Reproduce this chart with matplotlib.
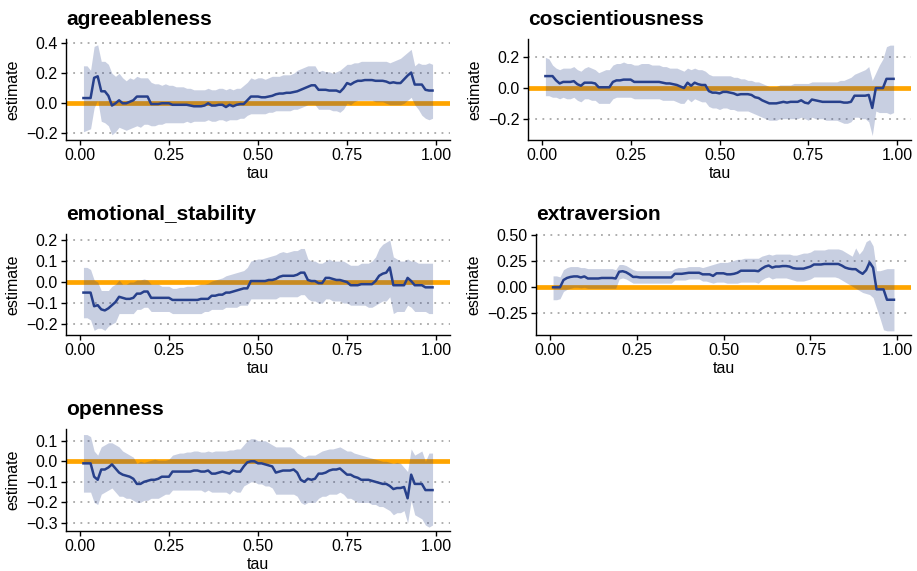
import numpy as np
import matplotlib
matplotlib.use("Agg")
import matplotlib.pyplot as plt
from matplotlib.ticker import FuncFormatter

plt.rcParams['font.family'] = ['Liberation Sans', 'DejaVu Sans']

# quantiles
tau = np.round(np.arange(1, 100) / 100, 2)

agree_est = [
    .035, .035, .035, .17, .18, .08, .08, .05, -.015, 0.0,
    .02, 0.0, 0.0, .01, .02, .045, .045, .045, .045, -.005,
    -.005, -.005, 0, 0, 0, -.01, -.01, -.01, -.01, -.01,
    -.015, -.02, -.02, -.02, -.015, 0, -.015, -.015, -.01, -.01,
    -.025, -.01, -.02, -.01, -.005, -.005, .02, .045, .045, .045,
    .04, .04, .045, .05, .06, .065, .065, .07, .07, .075,
    .08, .09, .10, .11, .12, .12, .09, .09, .09, .085,
    .085, .085, .075, .10, .135, .125, .14, .15, .15, .155,
    .155, .155, .15, .15, .15, .145, .135, .14, .135, .135,
    .16, .185, .205, .125, .125, .125, .09, .085, .085]
agree_hi = [
    .25, .25, .22, .38, .39, .28, .28, .26, .20, .18,
    .20, .17, .15, .17, .16, .18, .17, .17, .17, .14,
    .13, .13, .12, .13, .12, .12, .11, .11, .11, .10,
    .10, .09, .09, .09, .09, .10, .09, .09, .10, .10,
    .09, .10, .09, .10, .10, .12, .14, .17, .16, .17,
    .17, .16, .17, .18, .18, .18, .19, .19, .19, .20,
    .22, .23, .24, .25, .25, .25, .21, .22, .21, .21,
    .20, .21, .22, .24, .26, .26, .27, .27, .28, .28,
    .28, .28, .28, .28, .28, .28, .27, .28, .29, .30,
    .32, .34, .36, .25, .27, .26, .26, .27, .26]
agree_lo = [
    -.19, -.18, -.17, -.03, .02, -.12, -.13, -.15, -.21, -.19,
    -.16, -.17, -.18, -.17, -.16, -.15, -.16, -.14, -.14, -.15,
    -.15, -.14, -.14, -.13, -.13, -.13, -.13, -.13, -.13, -.12,
    -.13, -.12, -.12, -.12, -.12, -.11, -.12, -.12, -.11, -.11,
    -.12, -.11, -.11, -.11, -.10, -.10, -.08, -.07, -.07, -.07,
    -.07, -.07, -.06, -.06, -.05, -.05, -.05, -.05, -.05, -.04,
    -.04, -.03, -.02, -.01, -.01, -.01, -.04, -.04, -.04, -.04,
    -.05, -.05, -.06, -.04, 0.0, -.01, .01, .02, .02, .02,
    .02, .02, .01, .01, .01, 0.0, -.01, -.01, -.01, -.01,
    0.0, .02, .04, -.01, -.04, -.08, -.10, -.11, -.10]

cons_est = [
    .078, .078, .078, .05, .03, .04, .04, .04, .045, .025,
    .015, .035, .035, .035, .03, .005, .005, .005, .005, .04,
    .05, .05, .055, .055, .055, .04, .04, .04, .04, .04,
    .04, .04, .04, .035, .03, .03, .025, .02, .01, 0.0,
    .035, .015, .035, .025, .02, .02, -.02, -.03, -.03, -.035,
    -.025, -.025, -.03, -.035, -.045, -.04, -.04, -.04, -.045, -.06,
    -.065, -.08, -.09, -.10, -.10, -.10, -.095, -.09, -.095, -.09,
    -.09, -.09, -.08, -.095, -.10, -.075, -.08, -.085, -.09, -.09,
    -.09, -.09, -.09, -.09, -.095, -.095, -.09, -.05, -.05, -.05,
    -.05, -.045, -.13, 0.0, 0.0, 0.0, .06, .06, .06]
cons_hi = [
    .20, .19, .15, .13, .12, .13, .13, .13, .14, .12,
    .11, .13, .14, .13, .12, .10, .11, .12, .12, .15,
    .16, .16, .17, .16, .16, .15, .15, .16, .16, .16,
    .15, .15, .15, .14, .14, .13, .13, .13, .12, .11,
    .13, .12, .13, .12, .12, .11, .09, .08, .08, .08,
    .08, .08, .08, .07, .07, .06, .06, .05, .05, .04,
    .04, .03, .02, .01, .01, .01, .02, .02, .02, .02,
    .03, .03, .03, .03, .03, .04, .04, .04, .04, .04,
    .04, .04, .04, .05, .05, .06, .07, .09, .10, .11,
    .12, .14, .05, .10, .15, .19, .27, .28, .28]
cons_lo = [
    -.05, -.05, -.06, -.06, -.07, -.06, -.07, -.07, -.06, -.08,
    -.09, -.07, -.07, -.08, -.08, -.10, -.10, -.10, -.10, -.07,
    -.06, -.06, -.06, -.06, -.06, -.07, -.07, -.07, -.07, -.07,
    -.07, -.07, -.07, -.08, -.08, -.08, -.08, -.09, -.10, -.10,
    -.07, -.09, -.07, -.08, -.09, -.09, -.12, -.13, -.13, -.14,
    -.13, -.13, -.14, -.14, -.15, -.15, -.15, -.15, -.16, -.17,
    -.18, -.19, -.20, -.21, -.21, -.21, -.20, -.20, -.20, -.20,
    -.20, -.20, -.19, -.20, -.21, -.19, -.20, -.20, -.20, -.21,
    -.21, -.21, -.21, -.22, -.23, -.23, -.22, -.19, -.19, -.20,
    -.20, -.22, -.31, -.15, -.16, -.16, -.16, -.17, -.16]

emo_est = [
    -.05, -.05, -.05, -.115, -.11, -.13, -.135, -.125, -.11, -.095,
    -.07, -.075, -.08, -.08, -.075, -.055, -.055, -.045, -.045, -.075,
    -.075, -.075, -.075, -.075, -.075, -.085, -.085, -.085, -.085, -.085,
    -.085, -.085, -.085, -.08, -.08, -.08, -.065, -.065, -.06, -.06,
    -.05, -.05, -.045, -.04, -.035, -.03, -.03, .005, .005, .005,
    .005, .005, .01, .01, .015, .025, .03, .03, .03, .03,
    .035, .045, .045, .01, .005, .005, -.005, -.005, .02, .02,
    .015, .01, .01, .005, 0.0, -.015, -.015, -.015, -.01, -.01,
    -.01, -.01, .005, .03, .04, .045, .07, -.015, -.015, -.015,
    -.015, .02, .005, -.015, -.015, -.015, -.025, -.025, -.025]
emo_hi = [
    .07, .07, .06, .01, 0.0, -.04, -.04, -.04, -.02, -.01,
    .01, -.01, -.01, 0.0, 0.0, .01, .01, .015, .01, -.01,
    -.01, -.01, -.02, -.02, -.02, -.03, -.03, -.025, -.025, -.02,
    -.02, -.02, -.015, -.01, -.01, -.005, .005, .01, .015, .02,
    .03, .035, .04, .045, .05, .055, .07, .10, .105, .11,
    .11, .115, .12, .125, .13, .14, .145, .14, .145, .15,
    .15, .16, .16, .11, .10, .10, .09, .09, .10, .11,
    .10, .10, .10, .10, .09, .08, .08, .08, .09, .09,
    .09, .10, .12, .16, .18, .19, .20, .12, .11, .10,
    .10, .11, .10, .10, .09, .09, .09, .09, .09]
emo_lo = [
    -.17, -.17, -.18, -.23, -.22, -.22, -.23, -.21, -.20, -.19,
    -.15, -.15, -.15, -.15, -.15, -.13, -.13, -.12, -.12, -.14,
    -.14, -.14, -.14, -.14, -.14, -.15, -.15, -.15, -.15, -.15,
    -.15, -.15, -.15, -.15, -.14, -.14, -.13, -.13, -.13, -.13,
    -.12, -.12, -.12, -.12, -.11, -.11, -.11, -.08, -.08, -.08,
    -.08, -.08, -.08, -.08, -.08, -.07, -.07, -.07, -.07, -.07,
    -.07, -.06, -.06, -.08, -.09, -.09, -.10, -.10, -.08, -.08,
    -.09, -.09, -.09, -.10, -.10, -.11, -.11, -.11, -.11, -.11,
    -.12, -.12, -.11, -.10, -.09, -.09, -.07, -.15, -.14, -.14,
    -.14, -.11, -.12, -.14, -.14, -.14, -.14, -.15, -.15]

extra_est = [
    0, 0, 0, .07, .09, .10, .105, .105, .095, .105,
    .085, .085, .085, .085, .09, .09, .09, .09, .085, .15,
    .155, .145, .125, .10, .10, .095, .095, .095, .095, .095,
    .095, .095, .095, .095, .095, .13, .13, .13, .135, .14,
    .14, .14, .14, .125, .125, .125, .11, .135, .135, .135,
    .125, .125, .13, .14, .16, .16, .16, .16, .16, .155,
    .18, .20, .21, .19, .20, .20, .205, .205, .20, .185,
    .18, .18, .18, .19, .20, .22, .22, .22, .225, .225,
    .225, .225, .225, .21, .19, .18, .175, .175, .15, .13,
    .165, .24, .19, -.02, -.02, -.02, -.12, -.12, -.12]
extra_hi = [
    .11, .11, .10, .17, .19, .20, .20, .20, .19, .19,
    .18, .18, .18, .18, .18, .18, .18, .18, .17, .22,
    .22, .21, .19, .17, .16, .16, .16, .16, .16, .16,
    .16, .16, .16, .16, .16, .18, .19, .19, .19, .20,
    .20, .20, .20, .19, .20, .21, .22, .23, .24, .24,
    .24, .25, .26, .27, .27, .28, .28, .28, .28, .28,
    .30, .31, .32, .31, .32, .32, .32, .32, .32, .31,
    .31, .32, .33, .33, .34, .36, .36, .36, .36, .37,
    .37, .37, .37, .36, .34, .32, .30, .38, .32, .36,
    .44, .46, .40, .16, .16, .17, .18, .18, .18]
extra_lo = [
    -.12, -.12, -.11, -.04, -.02, -.01, 0.0, 0.0, -.005, 0.0,
    -.01, -.01, -.01, -.01, -.01, -.01, -.01, -.01, -.01, .08,
    .09, .08, .06, .04, .04, .04, .04, .04, .04, .04,
    .04, .04, .04, .04, .04, .07, .07, .07, .07, .08,
    .08, .08, .08, .06, .06, .05, .04, .05, .05, .05,
    .04, .04, .04, .04, .05, .05, .05, .05, .05, .04,
    .07, .09, .10, .08, .09, .09, .09, .09, .08, .07,
    .06, .06, .06, .07, .08, .10, .10, .10, .10, .10,
    .10, .10, .09, .07, .05, .03, .01, -.01, -.03, -.05,
    -.06, -.07, -.10, -.20, -.30, -.41, -.42, -.42, -.42]

open_est = [
    -.01, -.01, -.01, -.075, -.09, -.04, -.04, -.03, -.015, -.035,
    -.055, -.065, -.07, -.075, -.085, -.11, -.11, -.10, -.095, -.09,
    -.09, -.085, -.075, -.075, -.075, -.05, -.05, -.05, -.05, -.05,
    -.05, -.045, -.045, -.05, -.05, -.045, -.06, -.06, -.055, -.05,
    -.055, -.06, -.045, -.05, -.05, -.025, -.005, 0.0, 0.0, -.01,
    -.01, -.015, -.02, -.025, -.055, -.05, -.045, -.045, -.045, -.04,
    -.055, -.09, -.10, -.085, -.09, -.085, -.06, -.06, -.055, -.045,
    -.04, -.04, -.035, -.05, -.065, -.065, -.075, -.08, -.09, -.09,
    -.09, -.095, -.10, -.105, -.11, -.11, -.12, -.135, -.13, -.13,
    -.125, -.18, -.065, -.11, -.11, -.11, -.14, -.14, -.14]
open_hi = [
    .13, .13, .12, .05, .03, .07, .08, .09, .09, .08,
    .07, .05, .04, .03, .02, -.01, 0.0, -.005, 0.0, .005,
    .01, .005, .005, .005, .01, .03, .035, .04, .04, .045,
    .045, .05, .05, .045, .045, .05, .045, .05, .05, .05,
    .05, .055, .055, .06, .06, .08, .10, .11, .11, .10,
    .10, .10, .09, .08, .07, .07, .07, .07, .07, .06,
    .04, .03, .02, .03, .03, .03, .04, .05, .055, .06,
    .06, .065, .07, .06, .05, .05, .04, .035, .03, .025,
    .02, .015, .01, .005, 0.0, 0.0, -.005, -.01, -.005, -.01,
    -.03, -.05, .06, .03, .04, .05, 0.0, .04, .04]
open_lo = [
    -.15, -.15, -.15, -.20, -.21, -.16, -.15, -.14, -.13, -.15,
    -.17, -.17, -.18, -.18, -.19, -.20, -.20, -.19, -.19, -.18,
    -.18, -.18, -.17, -.16, -.16, -.14, -.14, -.14, -.14, -.14,
    -.14, -.14, -.14, -.14, -.15, -.14, -.15, -.15, -.15, -.15,
    -.15, -.16, -.14, -.15, -.15, -.12, -.11, -.10, -.10, -.11,
    -.11, -.12, -.12, -.13, -.16, -.16, -.16, -.16, -.16, -.16,
    -.17, -.20, -.21, -.20, -.20, -.20, -.18, -.17, -.17, -.16,
    -.16, -.16, -.15, -.16, -.18, -.18, -.19, -.20, -.20, -.20,
    -.20, -.21, -.21, -.22, -.22, -.23, -.24, -.26, -.25, -.25,
    -.24, -.30, -.19, -.26, -.27, -.28, -.31, -.32, -.31]

names = ["agreeableness", "coscientiousness", "emotional_stability",
         "extraversion", "openness"]
ests = [agree_est, cons_est, emo_est, extra_est, open_est]
los = [agree_lo, cons_lo, emo_lo, extra_lo, open_lo]
his = [agree_hi, cons_hi, emo_hi, extra_hi, open_hi]
yticks = [[-0.2, 0.0, 0.2, 0.4], [-0.2, 0.0, 0.2], [-0.2, -0.1, 0.0, 0.1, 0.2],
          [-0.25, 0.0, 0.25, 0.5], [-0.3, -0.2, -0.1, 0.0, 0.1]]
ydec = [1, 1, 1, 2, 1]
ylims = [(-0.245, 0.429), (-0.339, 0.32), (-0.252, 0.229), (-0.46, 0.514), (-0.339, 0.157)]

W, H = 917, 571
# panel boxes in pixels: left, top, right, bottom
boxes = [(66, 39, 450, 140), (528, 39, 911, 140), (66, 234, 450, 335),
         (536, 234, 911, 335), (66, 429, 450, 531)]

line_col = "#27408B"
fig = plt.figure(figsize=(W / 100, H / 100), dpi=100)

for i in range(5):
    l, t, r, b = boxes[i]
    ax = fig.add_axes([l / W, 1 - b / H, (r - l) / W, (b - t) / H])
    for yt in yticks[i]:
        ax.axhline(yt, color="#a8a8a8", lw=1.3, ls=(0, (1, 3)), zorder=0)
    ax.axhline(0, color="#FFA500", lw=3.4, zorder=1)
    ax.fill_between(tau, los[i], his[i], color=line_col, alpha=0.25, lw=0, zorder=2)
    ax.plot(tau, ests[i], color=line_col, lw=1.8, zorder=3)

    ax.set_xlim(-0.039, 1.039)
    ax.set_ylim(*ylims[i])
    ax.set_xticks([0, 0.25, 0.5, 0.75, 1.0])
    ax.xaxis.set_major_formatter(FuncFormatter(lambda v, p: "%.2f" % v))
    ax.set_yticks(yticks[i])
    d = ydec[i]
    ax.yaxis.set_major_formatter(FuncFormatter(
        lambda v, p, d=d: ("%.*f" % (d, 0.0 if abs(v) < 1e-9 else v)).replace("-", "\u2212")))

    for s in ["top", "right"]:
        ax.spines[s].set_visible(False)
    for s in ["left", "bottom"]:
        ax.spines[s].set_linewidth(1.0)
        ax.spines[s].set_color("black")
    ax.tick_params(length=3.5, width=1.0, color="black", labelsize=11.5,
                   labelcolor="black", pad=2.5)
    ax.set_xlabel("tau", fontsize=11.5, labelpad=2)
    ax.set_ylabel("estimate", fontsize=11.5, labelpad=4)
    ax.annotate(names[i], xy=(0, 1), xycoords="axes fraction", xytext=(0, 14),
                textcoords="offset pixels", ha="left", va="baseline",
                fontsize=15, fontweight="bold")

fig.savefig("out.png", dpi=100)
